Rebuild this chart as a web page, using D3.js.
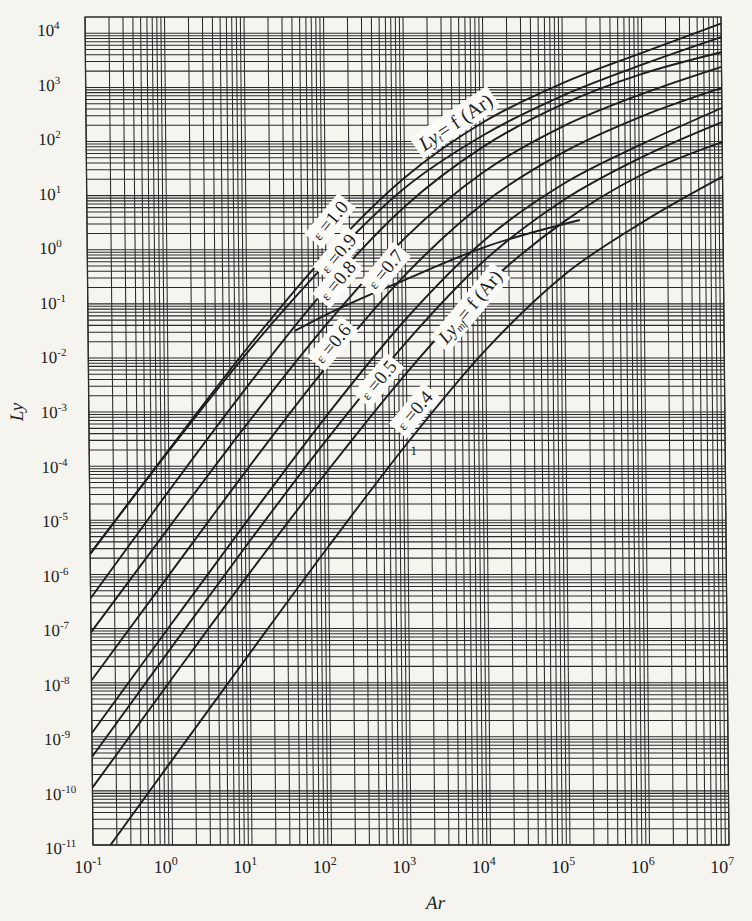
<!DOCTYPE html>
<html><head><meta charset="utf-8">
<script src="https://cdn.jsdelivr.net/npm/d3@7"></script>
<style>body{margin:0;background:#f5f4ef}</style>
</head><body>
<svg id="c" width="752" height="921"></svg>
<script>
// ---- data (log10 values) ----
const arExp = [-1, 0, 1, 2, 3, 4, 5, 6, 7];          // x tick exponents (Ar)
const lyExp = [4, 3, 2, 1, 0, -1, -2, -3, -4, -5, -6, -7, -8, -9, -10, -11]; // y tick exponents (Ly)
const curveLogAr = [-1, 0, 1, 2, 3, 4, 5, 6, 7];
const lyT    = [-5.62, -3.70, -1.82, -0.10, 1.33, 2.36, 3.08, 3.64, 4.18];
const eps10  = [-5.62, -3.72, -1.90, -0.26, 1.14, 2.12, 2.85, 3.42, 3.93];
const eps09  = [-6.44, -4.45, -2.52, -0.72, 0.80, 1.91, 2.69, 3.25, 3.65];
const eps08  = [-7.07, -5.12, -3.20, -1.38, 0.22, 1.44, 2.28, 2.88, 3.38];
const eps07  = [-7.96, -5.99, -4.03, -2.15, -0.46, 0.87, 1.80, 2.47, 2.99];
const eps06  = [-8.93, -6.94, -4.97, -3.05, -1.28, 0.18, 1.22, 1.96, 2.62];
const lyMf   = [-9.37, -7.37, -5.40, -3.49, -1.71, -0.19, 0.92, 1.72, 2.36];
const eps05  = [-9.94, -7.95, -5.98, -4.08, -2.28, -0.68, 0.52, 1.40, 1.99];
const eps04  = [-11.44, -9.44, -7.45, -5.48, -3.58, -1.85, -0.46, 0.52, 1.35];
const shortAr = [1.6, 2, 3, 4, 5.2];
const shortLy = [-1.5, -1.2, -0.55, 0.05, 0.55];
const labels = [
  {t: "Ly", sub: "t", rest: "= f (Ar)", ar: 3.66, ly: 2.33, a: -34, fs: 20},
  {t: "ε =1.0", ar: 2.08, ly: 0.51, a: -50, fs: 19},
  {t: "ε =0.9", ar: 2.18, ly: -0.10, a: -50, fs: 19},
  {t: "ε =0.8", ar: 2.17, ly: -0.60, a: -50, fs: 19},
  {t: "ε =0.7", ar: 2.77, ly: -0.39, a: -50, fs: 19},
  {t: "ε =0.6", ar: 2.10, ly: -1.76, a: -50, fs: 19},
  {t: "ε =0.5", ar: 2.67, ly: -2.44, a: -50, fs: 19},
  {t: "ε =0.4", ar: 3.12, ly: -3.00, a: -50, fs: 19},
  {t: "Ly", sub: "mf", rest: "= f (Ar)", ar: 3.83, ly: -1.08, a: -50, fs: 19}
];

// ---- layout ----
const W = 636, H = 828;
const svg = d3.select("#c");
svg.append("rect").attr("width", 752).attr("height", 921).attr("fill", "#f5f4ef");
const g = svg.append("g").attr("transform", "translate(85,17) skewX(0.553)");

const x = d3.scaleLog().domain([0.1, 1e7]).range([0, W]);
const y = d3.scaleLog().domain([1e-11, 2e4]).range([H, 0]);

// grid
const vVals = [], hVals = [];
for (let e = -1; e < 7; e++) for (let m = 1; m <= 9; m++) vVals.push(m * Math.pow(10, e));
vVals.push(1e7);
for (let e = -11; e < 4; e++) for (let m = 1; m <= 9; m++) hVals.push(m * Math.pow(10, e));
hVals.push(1e4);
const grid = g.append("g").attr("stroke", "#2b2b2b").attr("stroke-width", 1.05);
grid.selectAll("line.v").data(vVals).join("line").attr("class", "v")
  .attr("x1", d => x(d)).attr("x2", d => x(d)).attr("y1", 0).attr("y2", H);
grid.selectAll("line.h").data(hVals).join("line").attr("class", "h")
  .attr("x1", 0).attr("x2", W).attr("y1", d => y(d)).attr("y2", d => y(d));
g.append("rect").attr("width", W).attr("height", H).attr("fill", "none")
  .attr("stroke", "#2b2b2b").attr("stroke-width", 1.3);

// clip
svg.append("clipPath").attr("id", "clip").append("rect").attr("width", W).attr("height", H);

const line = d3.line().x(d => x(Math.pow(10, d[0]))).y(d => y(Math.pow(10, d[1]))).curve(d3.curveMonotoneX);
const series = [lyT, eps10, eps09, eps08, eps07, eps06, lyMf, eps05, eps04];
const cg = g.append("g").attr("clip-path", "url(#clip)").attr("fill", "none")
  .attr("stroke", "#1e1e1e").attr("stroke-width", 1.9);
series.forEach(s => cg.append("path").attr("d", line(curveLogAr.map((a, i) => [a, s[i]]))));
cg.append("path").attr("d", line(shortAr.map((a, i) => [a, shortLy[i]])));

// curve labels
const serif = "'Liberation Serif','DejaVu Serif',serif";
labels.forEach(L => {
  const lg = g.append("g").attr("transform",
    `translate(${x(Math.pow(10, L.ar))},${y(Math.pow(10, L.ly))}) rotate(${L.a})`);
  const txt = lg.append("text").attr("font-family", serif).attr("font-size", L.fs)
    .attr("text-anchor", "middle").attr("dominant-baseline", "middle").attr("fill", "#1e1e1e");
  if (L.sub) {
    txt.append("tspan").attr("font-style", "italic").text(L.t);
    txt.append("tspan").attr("font-size", 11).attr("dy", 4).attr("font-style", "italic").text(L.sub);
    txt.append("tspan").attr("dy", -4).text(L.rest);
  } else {
    txt.append("tspan").attr("font-size", 14).text(L.t.slice(0, 1));
    txt.append("tspan").text(L.t.slice(1));
  }
  const bb = txt.node().getBBox();
  lg.insert("rect", "text").attr("x", bb.x - 4).attr("y", bb.y - 1)
    .attr("width", bb.width + 8).attr("height", bb.height + 2).attr("fill", "#fcfbf8");
});
// small marker "1"
g.append("text").attr("x", x(Math.pow(10, 3.04))).attr("y", y(Math.pow(10, -3.80)))
  .attr("font-family", serif).attr("font-size", 13).attr("fill", "#222").text("1");

// y tick labels
lyExp.forEach(e => {
  const py = y(Math.pow(10, e));
  const t = g.append("text").attr("x", -48).attr("y", py + 6 + (py - 400) * 0.008)
    .attr("font-family", serif).attr("font-size", 17).attr("fill", "#222");
  t.append("tspan").text("10");
  t.append("tspan").attr("font-size", 11).attr("dy", -7).text(e);
});
// x tick labels
arExp.forEach(e => {
  const px = x(Math.pow(10, e));
  const t = g.append("text").attr("x", px - 19).attr("y", H + 28)
    .attr("font-family", serif).attr("font-size", 18).attr("fill", "#222");
  t.append("tspan").text("10");
  t.append("tspan").attr("font-size", 12).attr("dy", -8).text(e);
});
// axis titles
g.append("text").attr("x", x(2e3)).attr("y", H + 64).attr("text-anchor", "middle")
  .attr("font-family", serif).attr("font-style", "italic").attr("font-size", 19).attr("fill", "#222").text("Ar");
g.append("text").attr("transform", `translate(-66,${y(1e-3)}) rotate(-90)`).attr("text-anchor", "middle")
  .attr("font-family", serif).attr("font-style", "italic").attr("font-size", 19).attr("fill", "#222").text("Ly");
</script>
</body></html>
